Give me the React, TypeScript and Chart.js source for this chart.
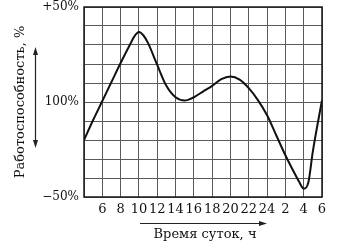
import React, { useEffect, useRef } from "react";
import { Chart, registerables } from "chart.js";

Chart.register(...registerables);

const hours = [4, 5, 6, 7, 8, 9, 9.5, 10, 10.5, 11, 12, 13, 14, 15, 16, 17, 18, 19, 20, 21, 22, 23, 24, 25, 26, 27, 27.5, 28, 28.5, 29, 30];
const performance = [-20, -9.5, 0.5, 10.5, 20.5, 30, 34.5, 36.8, 35, 31, 19.5, 8.5, 2.5, 0.8, 2.5, 5.5, 8.5, 12, 13.4, 11.8, 7.3, 1, -7, -17.5, -28, -37.5, -42, -45.6, -42.5, -26, 1];
const yTickLabels: Record<number, string> = { 50: "+50%", 0: "100%", [-50]: "\u221250%" };
const yTitle = "Работоспособность, %";
const xTitle = "Время суток, ч";

const FONT = "'DejaVu Serif', serif";

const extras = {
  id: "extras",
  afterDraw(chart: any) {
    const { ctx, chartArea } = chart;
    ctx.save();
    // frame
    ctx.strokeStyle = "#1a1a1a";
    ctx.lineWidth = 1.5;
    ctx.strokeRect(chartArea.left, chartArea.top, chartArea.right - chartArea.left, chartArea.bottom - chartArea.top);
    // y arrow (double headed)
    ctx.strokeStyle = "#222";
    ctx.fillStyle = "#222";
    ctx.lineWidth = 1.2;
    const ax = 35.5, ay1 = 47, ay2 = 148;
    ctx.beginPath();
    ctx.moveTo(ax, ay1 + 4);
    ctx.lineTo(ax, ay2 - 4);
    ctx.stroke();
    ctx.beginPath();
    ctx.moveTo(ax, ay1);
    ctx.lineTo(ax - 2.5, ay1 + 8);
    ctx.lineTo(ax + 2.5, ay1 + 8);
    ctx.closePath();
    ctx.fill();
    ctx.beginPath();
    ctx.moveTo(ax, ay2);
    ctx.lineTo(ax - 2.5, ay2 - 8);
    ctx.lineTo(ax + 2.5, ay2 - 8);
    ctx.closePath();
    ctx.fill();
    // x arrow
    const ay = 223.5, ax1 = 140, ax2 = 267;
    ctx.beginPath();
    ctx.moveTo(ax1, ay);
    ctx.lineTo(ax2 - 4, ay);
    ctx.stroke();
    ctx.beginPath();
    ctx.moveTo(ax2, ay);
    ctx.lineTo(ax2 - 8, ay - 2.5);
    ctx.lineTo(ax2 - 8, ay + 2.5);
    ctx.closePath();
    ctx.fill();
    // titles
    ctx.fillStyle = "#111";
    ctx.font = `13px ${FONT}`;
    ctx.textAlign = "center";
    ctx.textBaseline = "middle";
    ctx.fillText(xTitle, 205, 235);
    ctx.translate(21, 102);
    ctx.rotate(-Math.PI / 2);
    ctx.fillText(yTitle, 0, 0);
    ctx.restore();
  },
};

export default function App() {
  const ref = useRef<HTMLCanvasElement | null>(null);
  useEffect(() => {
    document.body.style.margin = "0";
    if (!ref.current) return;
    const chart = new Chart(ref.current, {
      type: "line",
      data: {
        datasets: [
          {
            data: hours.map((h, i) => ({ x: h, y: performance[i] })),
            borderColor: "#111",
            borderWidth: 2,
            pointRadius: 0,
            fill: false,
            cubicInterpolationMode: "monotone",
          },
        ],
      },
      options: {
        animation: false,
        responsive: true,
        maintainAspectRatio: false,
        layout: { padding: { top: 7, right: 30, left: 0, bottom: 0 } },
        plugins: { legend: { display: false }, tooltip: { enabled: false } },
        scales: {
          x: {
            type: "linear",
            min: 4,
            max: 30,
            grid: { color: "#5a5a5a", lineWidth: 1, drawTicks: false },
            border: { display: false },
            ticks: {
              stepSize: 2,
              autoSkip: false,
              maxRotation: 0,
              padding: 5,
              color: "#111",
              font: { family: FONT, size: 13 },
              callback: (v: any) => (v === 4 ? "" : String(v > 24 ? v - 24 : v)),
            },
            afterFit: (s: any) => {
              s.height = 47;
            },
          },
          y: {
            min: -50,
            max: 50,
            grid: { color: "#5a5a5a", lineWidth: 1, drawTicks: false },
            border: { display: false },
            ticks: {
              stepSize: 10,
              autoSkip: false,
              padding: 5,
              color: "#111",
              font: { family: FONT, size: 12, lineHeight: 0.6 },
              callback: (v: any) => yTickLabels[v] ?? "",
            },
            afterFit: (s: any) => {
              s.width = 84;
              s.paddingTop = 0;
              s.paddingBottom = 0;
            },
          },
        },
      },
      plugins: [extras],
    });
    return () => chart.destroy();
  }, []);
  return (
    <div style={{ position: "absolute", left: 0, top: 0, width: 352, height: 244, background: "#fff" }}>
      <canvas ref={ref} />
    </div>
  );
}
